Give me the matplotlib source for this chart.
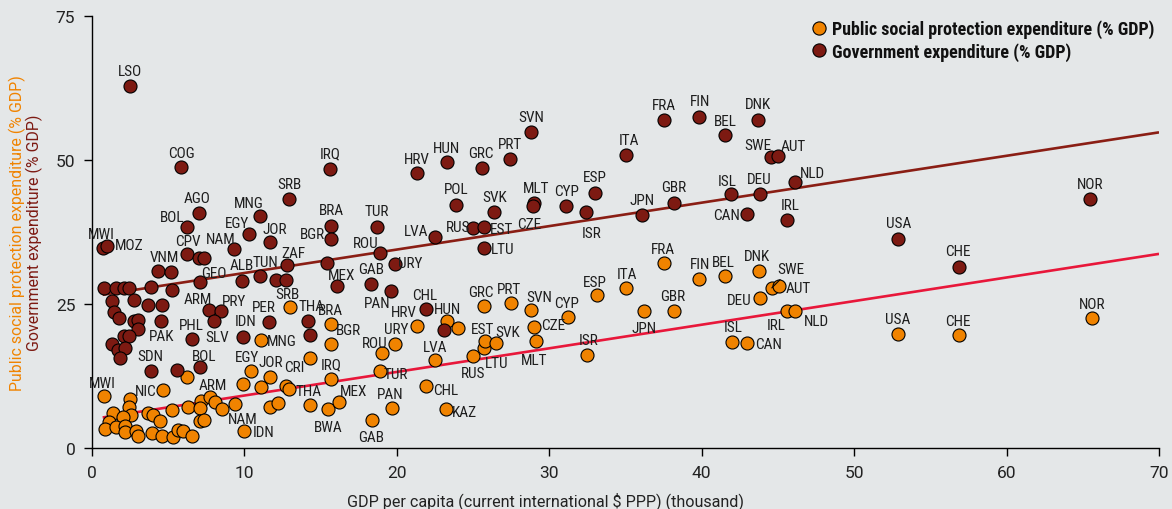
import matplotlib
matplotlib.use("Agg")
import matplotlib.pyplot as plt
from matplotlib.lines import Line2D

# ---------------- data ----------------
gov_code = ["LSO", "COG", "IRQ", "AGO", "BOL", "MNG", "SRB", "EGY", "NAM", "JOR",
            "BRA", "BGR", "TUR", "ROU", "ZAF", "MWI", "MOZ", "VNM", "", "CPV",
            "", "", "GEO", "ALB", "TUN", "", "", "", "MEX", "GAB",
            "PAN", "URY", "ARM", "PRY", "SLV", "PHL", "IDN", "PER", "THA", "",
            "PAK", "SDN", "", "",
            "", "", "", "", "", "", "", "", "", "", "", "", "", "", "", "", "", "", "", "", "",
            "HRV", "HUN", "GRC", "PRT", "SVN", "ITA", "FRA", "FIN", "BEL", "DNK",
            "SWE", "AUT", "POL", "SVK", "MLT", "CZE", "CYP", "ESP", "ISR", "JPN",
            "GBR", "ISL", "DEU", "CAN", "IRL", "NLD", "NOR", "USA", "CHE", "RUS",
            "EST", "LVA", "LTU", "CHL", ""]
gov_gdp = [2.5, 5.84, 15.6, 7.0, 6.2, 11.04, 12.95, 10.3, 9.34, 11.7,
           15.7, 15.7, 18.7, 18.9, 12.8, 0.7, 1.0, 4.35, 5.18, 6.25,
           7.0, 7.35, 7.09, 9.86, 11.05, 12.1, 12.7, 15.4, 16.1, 18.3,
           19.6, 19.9, 7.68, 8.46, 8.0, 6.54, 9.93, 11.6, 14.2, 14.3,
           4.55, 3.9, 5.58, 7.1,
           0.81, 1.55, 2.12, 2.45, 3.87, 5.23, 1.31, 2.78, 3.69, 4.59, 1.44, 1.77, 2.78, 3.0,
           3.04, 2.1, 2.43, 1.31, 1.7, 2.15, 1.86,
           21.3, 23.3, 25.6, 27.4, 28.8, 35.0, 37.5, 39.8, 41.5, 43.7,
           44.55, 45.0, 23.9, 26.4, 29.0, 28.9, 31.1, 33.0, 32.4, 36.1,
           38.2, 41.95, 43.8, 42.96, 45.6, 46.1, 65.5, 52.9, 56.9, 25.0,
           25.7, 22.5, 25.7, 21.9, 23.1]
gov_exp = [62.8, 48.8, 48.4, 40.8, 38.4, 40.2, 43.2, 37.1, 34.6, 35.7,
           38.6, 36.3, 38.4, 33.9, 31.8, 34.8, 35.0, 30.7, 30.6, 33.7,
           32.9, 32.9, 28.9, 29.0, 29.8, 29.2, 29.1, 32.1, 28.1, 28.4,
           27.3, 31.9, 24.0, 23.7, 22.1, 18.9, 19.3, 21.8, 22.0, 19.7,
           22.0, 13.3, 13.5, 14.0,
           27.8, 27.8, 27.8, 27.7, 28.0, 27.5, 25.6, 25.7, 24.9, 24.8, 23.6, 22.5, 22.1, 22.3,
           20.6, 19.4, 19.5, 18.0, 17.0, 17.4, 15.7,
           47.7, 49.7, 48.6, 50.1, 54.9, 50.8, 56.9, 57.5, 54.4, 57.0,
           50.6, 50.7, 42.2, 41.0, 42.5, 42.0, 42.0, 44.3, 41.0, 40.5,
           42.5, 44.1, 44.1, 40.7, 39.5, 46.2, 43.2, 36.3, 31.5, 38.2,
           38.3, 36.6, 34.7, 24.1, 20.4]

sp_code = ["MWI", "NIC", "", "", "", "", "", "", "", "",
           "", "", "", "", "", "", "", "", "", "",
           "", "", "", "", "", "BOL", "", "", "ARM", "",
           "", "NAM", "", "", "IDN", "", "", "", "", "EGY",
           "JOR", "", "", "MNG", "SRB", "CRI", "THA", "BRA", "BGR", "IRQ",
           "BWA", "MEX", "GAB", "ROU", "TUR", "PAN", "URY", "HRV", "CHL", "KAZ",
           "LVA", "HUN", "", "RUS", "LTU", "EST", "SVK", "GRC", "PRT", "SVN",
           "CZE", "MLT", "CYP", "ISR", "ESP", "ITA", "JPN", "FRA", "GBR", "FIN",
           "BEL", "ISL", "CAN", "DNK", "DEU", "SWE", "AUT", "IRL", "NLD", "USA",
           "CHE", "NOR"]
sp_gdp = [0.79, 4.64, 2.49, 2.43, 2.54, 1.35, 2.05, 1.1, 0.85, 1.6,
          2.15, 2.19, 2.9, 3.03, 3.7, 4.0, 4.43, 3.94, 4.62, 5.27,
          5.29, 5.66, 5.97, 6.57, 6.28, 6.25, 7.13, 7.09, 7.72, 8.07,
          8.5, 9.38, 7.1, 7.37, 10.0, 9.9, 11.1, 11.66, 12.2, 10.4,
          11.7, 12.7, 12.9, 11.1, 12.97, 14.3, 14.3, 15.7, 15.7, 15.7,
          15.5, 16.2, 18.35, 19.0, 18.9, 19.7, 19.9, 21.3, 21.9, 23.2,
          22.5, 23.3, 24.0, 25.0, 25.7, 25.8, 26.5, 25.7, 27.5, 28.8,
          29.0, 29.1, 31.2, 32.5, 33.1, 35.0, 36.2, 37.5, 38.2, 39.8,
          41.5, 42.0, 43.0, 43.75, 43.8, 44.6, 45.1, 45.6, 46.1, 52.9,
          56.9, 65.6]
sp_exp = [9.0, 10.1, 8.5, 7.1, 5.7, 6.0, 5.4, 4.5, 3.3, 3.6,
          3.8, 2.7, 2.9, 2.05, 6.0, 5.8, 4.7, 2.6, 2.0, 6.55,
          1.9, 3.15, 2.95, 2.1, 7.2, 12.4, 8.2, 6.95, 8.85, 8.0,
          6.7, 7.7, 4.7, 4.9, 2.9, 11.05, 10.6, 7.1, 7.8, 13.4,
          12.3, 10.8, 10.2, 18.8, 24.4, 15.7, 7.4, 21.5, 18.0, 12.0,
          6.7, 8.0, 4.9, 16.5, 13.4, 6.9, 18.1, 21.2, 10.7, 6.7,
          15.3, 22.1, 20.8, 16.0, 17.3, 18.6, 18.3, 24.6, 25.2, 23.9,
          21.0, 18.6, 22.8, 16.2, 26.6, 27.7, 23.8, 32.1, 23.8, 29.4,
          29.9, 18.35, 18.3, 30.7, 26.0, 27.8, 28.1, 23.7, 23.7, 19.8,
          19.7, 22.6]

# trend lines (values at the two ends)
trend_gdp = [0.7, 70.0]
gov_trend = [26.6, 54.8]
sp_trend = [5.3, 33.7]

# ---------------- layout (label offsets in pixels, up positive) ----------------
gov_off = {"LSO": (0, 16), "COG": (0, 15), "IRQ": (0, 17), "AGO": (-2, 16), "BOL": (-14, 11),
           "MNG": (-12, 14), "SRB": (0, 16), "EGY": (-12, 12), "NAM": (-14, 11), "JOR": (4, 14),
           "BRA": (0, 17), "BGR": (-19, 6), "TUR": (0, 17), "ROU": (-14, 11), "ZAF": (6, 13),
           "MWI": (-1, 15), "MOZ": (22, 2), "VNM": (6, 15), "CPV": (1, 14), "GEO": (14, 10),
           "ALB": (-1, 17), "TUN": (5, 15), "MEX": (4, 12), "GAB": (0, 16), "PAN": (-14, -11),
           "URY": (15, 2), "ARM": (-11, 12), "PRY": (13, 11), "SLV": (3, -15), "PHL": (0, 15),
           "IDN": (2, 17), "PER": (-5, 16), "THA": (3, 16), "PAK": (0, -14), "SDN": (-1, 16),
           "HRV": (0, 15), "HUN": (-1, 15), "GRC": (-1, 16), "PRT": (0, 16), "SVN": (0, 16),
           "ITA": (3, 16), "FRA": (0, 16), "FIN": (1, 17), "BEL": (1, 15), "DNK": (0, 17),
           "SWE": (-13, 13), "AUT": (15, 11), "POL": (0, 17), "SVK": (0, 16), "MLT": (2, 16),
           "CZE": (-3, -17), "CYP": (1, 16), "ESP": (0, 17), "ISR": (6, -20), "JPN": (0, 16),
           "GBR": (-1, 17), "ISL": (-4, 14), "DEU": (0, 16), "CAN": (-20, 0), "IRL": (3, 16),
           "NLD": (18, 10), "NOR": (0, 16), "USA": (0, 17), "CHE": (-1, 17), "RUS": (-15, 2),
           "EST": (18, -1), "LVA": (-19, 7), "LTU": (19, 0), "CHL": (-1, 15)}
sp_off = {"MWI": (-2, 14), "NIC": (-17, 0), "BOL": (17, 22), "ARM": (3, 13), "NAM": (8, -14),
          "IDN": (19, 0), "EGY": (-4, 15), "JOR": (0, 16), "MNG": (21, 0), "SRB": (-2, 14),
          "CRI": (-16, -8), "THA": (-1, 15), "BRA": (-1, 15), "BGR": (17, 15), "IRQ": (0, 16),
          "BWA": (0, -17), "MEX": (15, 12), "GAB": (-1, -16), "ROU": (-7, 11), "TUR": (16, -2),
          "PAN": (-2, 15), "URY": (1, 16), "HRV": (-13, 15), "CHL": (20, -3), "KAZ": (19, -2),
          "LVA": (0, 14), "HUN": (0, 13), "RUS": (0, -16), "LTU": (13, -14), "EST": (-3, 13),
          "SVK": (12, 12), "GRC": (-3, 15), "PRT": (-2, 15), "SVN": (8, 14), "CZE": (19, 3),
          "MLT": (-1, -18), "CYP": (-1, 15), "ISR": (1, 16), "ESP": (-2, 14), "ITA": (2, 15),
          "JPN": (0, -16), "FRA": (-1, 15), "GBR": (-2, 16), "FIN": (1, 16), "BEL": (-1, 15),
          "ISL": (1, 16), "CAN": (21, 0), "DNK": (-2, 16), "DEU": (-20, -1), "SWE": (19, 20),
          "AUT": (19, -1), "IRL": (-11, -13), "NLD": (22, -9), "USA": (-1, 16), "CHE": (-1, 15),
          "NOR": (0, 15)}

BG = "#E4E7E8"
ORANGE = "#F08300"
DARKRED = "#7D1A12"
GOVLINE = "#8A1E14"
SPLINE = "#E8173A"
LABEL_FONT = ["Roboto Condensed", "DejaVu Sans"]
AX_FONT = ["Roboto", "DejaVu Sans"]

fig = plt.figure(figsize=(11.72, 5.10), dpi=100, facecolor=BG)
ax = fig.add_axes([92 / 1172, 1 - 449 / 510, (1159 - 92) / 1172, (449 - 17) / 510])
ax.set_facecolor(BG)

ax.plot(trend_gdp, gov_trend, color=GOVLINE, lw=1.9, zorder=2, solid_capstyle="butt")
ax.plot(trend_gdp, sp_trend, color=SPLINE, lw=1.9, zorder=2, solid_capstyle="butt")

ax.scatter(sp_gdp, sp_exp, s=88, c=ORANGE, edgecolors="black", linewidths=0.8, zorder=3)
ax.scatter(gov_gdp, gov_exp, s=88, c=DARKRED, edgecolors="black", linewidths=0.8, zorder=4)


def put_labels(xs, ys, codes, offsets):
    for x, y, c in zip(xs, ys, codes):
        if not c:
            continue
        dx, dy = offsets.get(c, (0, 15))
        kw = {}
        if offsets is sp_off and c == "SWE":
            kw["arrowprops"] = dict(arrowstyle="-", color="black", lw=0.8,
                                    shrinkA=1, shrinkB=0)
        ax.annotate(c, (x, y), xytext=(dx, dy - 1), textcoords="offset pixels",
                    ha="center", va="center", fontsize=11, family=LABEL_FONT,
                    color="#1e1e1e", zorder=5, annotation_clip=False, **kw)


put_labels(gov_gdp, gov_exp, gov_code, gov_off)
put_labels(sp_gdp, sp_exp, sp_code, sp_off)

ax.set_xlim(0, 70)
ax.set_ylim(0, 75)
ax.set_xticks([0, 10, 20, 30, 40, 50, 60, 70])
ax.set_yticks([0, 25, 50, 75])
for s in ["top", "right"]:
    ax.spines[s].set_visible(False)
for s in ["left", "bottom"]:
    ax.spines[s].set_color("black")
    ax.spines[s].set_linewidth(1.0)
ax.tick_params(direction="out", length=6, width=1, colors="black", labelcolor="#222222",
               labelsize=12.5, pad=6)
for lab in ax.get_xticklabels() + ax.get_yticklabels():
    lab.set_family(AX_FONT)
    lab.set_fontweight("normal")

fig.text(545.5 / 1172, 1 - 501 / 510, "GDP per capita (current international $ PPP) (thousand)",
         ha="center", va="center", fontsize=11.6, family=AX_FONT, color="#222222")
fig.text(17 / 1172, 1 - 233 / 510, "Public social protection expenditure (% GDP)", rotation=90,
         ha="center", va="center", fontsize=11.4, family=AX_FONT, color=ORANGE)
fig.text(34 / 1172, 1 - 233 / 510, "Government expenditure (% GDP)", rotation=90,
         ha="center", va="center", fontsize=11.4, family=AX_FONT, color=DARKRED)

handles = [Line2D([], [], marker="o", ls="", markersize=9.5, markerfacecolor=ORANGE,
                  markeredgecolor="black", markeredgewidth=0.8),
           Line2D([], [], marker="o", ls="", markersize=9.5, markerfacecolor=DARKRED,
                  markeredgecolor="black", markeredgewidth=0.8)]
leg = fig.legend(handles, ["Public social protection expenditure (% GDP)",
                           "Government expenditure (% GDP)"],
                 loc="upper left", bbox_to_anchor=(801 / 1172, 1 - 13 / 510), frameon=False,
                 handletextpad=0.1, labelspacing=0.22, borderaxespad=0, handlelength=1.2,
                 prop=dict(family=LABEL_FONT, weight="bold", size=13))
for t in leg.get_texts():
    t.set_color("#111111")

fig.savefig("out.png", dpi=100, facecolor=BG)
